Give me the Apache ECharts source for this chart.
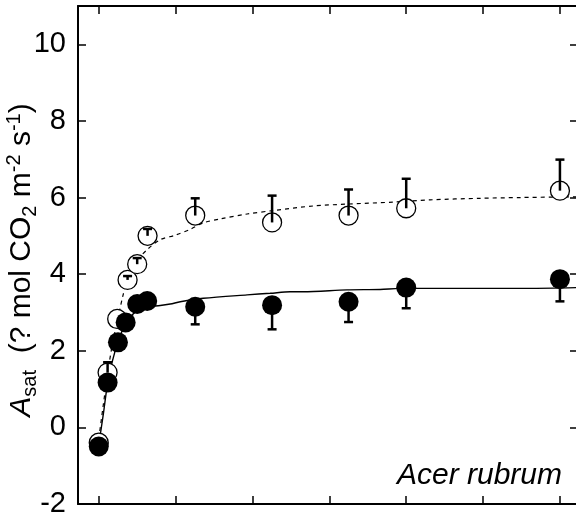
<!DOCTYPE html>
<html>
<head>
<meta charset="utf-8">
<script src="https://cdn.jsdelivr.net/npm/echarts@6/dist/echarts.min.js"></script>
<style>html,body{margin:0;padding:0;background:#fff;}#c{width:576px;height:519px;}</style>
</head>
<body>
<div id="c"></div>
<script>
// x ticks (no labels shown in the reference)
const xTicks = [0, 200, 400, 600, 800, 1000, 1200];
const yTicks = [-2, 0, 2, 4, 6, 8, 10];

// open circles (upper error bar only)
const openX   = [0, 23, 48, 75, 100, 127, 251, 451, 650, 800, 1200];
const openY   = [-0.4, 1.43, 2.83, 3.85, 4.26, 5.0, 5.53, 5.35, 5.53, 5.72, 6.18];
const openErr = [null, 1.7, null, 3.95, 4.42, 5.18, 5.98, 6.05, 6.21, 6.49, 6.99];

// filled circles (lower error bar only)
const fillX   = [0, 23, 50, 70, 100, 126, 251, 451, 650, 800, 1200];
const fillY   = [-0.5, 1.17, 2.22, 2.74, 3.22, 3.30, 3.15, 3.19, 3.28, 3.65, 3.87];
const fillErr = [null, null, null, null, null, null, 2.69, 2.56, 2.75, 3.11, 3.29];

// fitted curves
const dashX = [0, 12, 23, 36, 49, 62, 75, 100, 127, 160, 200, 238, 272, 316, 386, 454, 558, 647, 766, 862, 992, 1096, 1247];
const dashY = [-0.3, 0.6, 1.4, 2.2, 2.8, 3.4, 3.85, 4.35, 4.65, 4.9, 5.02, 5.17, 5.34, 5.44, 5.57, 5.66, 5.78, 5.83, 5.88, 5.94, 5.98, 6.0, 6.02];
const solidX = [0, 12, 23, 36, 49, 62, 75, 100, 127, 160, 186, 212, 272, 386, 446, 498, 532, 646, 732, 784, 1117, 1247];
const solidY = [-0.45, 0.35, 1.15, 1.75, 2.2, 2.55, 2.8, 3.05, 3.15, 3.18, 3.22, 3.28, 3.37, 3.46, 3.5, 3.54, 3.54, 3.59, 3.6, 3.63, 3.63, 3.65];

const FONT = 'Liberation Sans, Arial, sans-serif';

function zip(a, b) { return a.map((v, i) => [v, b[i]]); }
function errData(x, y, e) {
  const out = [];
  x.forEach((v, i) => { if (e[i] !== null) out.push([v, y[i], e[i]]); });
  return out;
}
function errRender(params, api) {
  const c = api.coord([api.value(0), api.value(1)]);
  const e = api.coord([api.value(0), api.value(2)]);
  const st = { stroke: '#000', lineWidth: 2.5 };
  return {
    type: 'group',
    children: [
      { type: 'line', shape: { x1: c[0], y1: c[1], x2: e[0], y2: e[1] }, style: st },
      { type: 'line', shape: { x1: e[0] - 4.5, y1: e[1], x2: e[0] + 4.5, y2: e[1] }, style: st }
    ]
  };
}

const chart = echarts.init(document.getElementById('c'), null, { renderer: 'canvas' });
const xBase = {
  type: 'value', min: -54, max: 1247,
  axisLine: { show: true, onZero: false, lineStyle: { color: '#000', width: 2 } },
  axisTick: { show: true, inside: true, length: 8, customValues: xTicks, lineStyle: { color: '#000', width: 1.5 } },
  axisLabel: { show: false },
  splitLine: { show: false }
};
const yBase = {
  type: 'value', min: -2, max: 11,
  axisLine: { show: true, onZero: false, lineStyle: { color: '#000', width: 2 } },
  axisTick: { show: true, inside: true, length: 8, customValues: yTicks, lineStyle: { color: '#000', width: 1.5 } },
  splitLine: { show: false }
};

chart.setOption({
  backgroundColor: '#fff',
  animation: false,
  grid: { left: 78, right: -2, top: 6, bottom: 15, containLabel: false, outerBoundsMode: 'none' },
  xAxis: [
    Object.assign({}, xBase, { position: 'bottom' }),
    Object.assign({}, xBase, { position: 'top' })
  ],
  yAxis: [
    Object.assign({}, yBase, {
      position: 'left',
      axisLabel: { show: true, customValues: yTicks, margin: 12, color: '#000', fontSize: 29, fontFamily: FONT },
      name: '{i|A}{sub|sat}{n|  (? mol CO}{sub|2}{n| m}{sup|-2}{n| s}{sup|-1}{n|)}',
      nameLocation: 'middle',
      nameRotate: 90,
      nameGap: 38,
      nameMoveOverlap: false,
      nameTextStyle: {
        color: '#000', fontFamily: FONT, fontSize: 30, padding: [0, 10, 0, 0],
        rich: {
          i: { fontStyle: 'italic', fontSize: 30, fontFamily: FONT, color: '#000', lineHeight: 36 },
          n: { fontSize: 30, fontFamily: FONT, color: '#000', lineHeight: 36 },
          sub: { fontSize: 20, fontFamily: FONT, color: '#000', verticalAlign: 'bottom', lineHeight: 20 },
          sup: { fontSize: 20, fontFamily: FONT, color: '#000', verticalAlign: 'top', lineHeight: 20 }
        }
      }
    }),
    Object.assign({}, yBase, { position: 'right', axisLabel: { show: false } })
  ],
  graphic: [{
    type: 'text', right: 14, top: 461,
    style: { text: 'Acer rubrum', font: 'italic 30px ' + FONT, fill: '#000' }
  }],
  series: [
    { type: 'line', data: zip(dashX, dashY), smooth: 0.3, showSymbol: false, symbol: 'none',
      lineStyle: { color: '#000', width: 1.2, type: [4, 4] }, z: 1 },
    { type: 'line', data: zip(solidX, solidY), smooth: 0.3, showSymbol: false, symbol: 'none',
      lineStyle: { color: '#000', width: 1.4 }, z: 1 },
    { type: 'scatter', data: zip(openX, openY), symbol: 'circle', symbolSize: 19,
      itemStyle: { color: '#fff', opacity: 1, borderColor: '#000', borderWidth: 1.3 }, z: 3 },
    { type: 'custom', data: errData(openX, openY, openErr), renderItem: errRender, z: 4 },
    { type: 'custom', data: errData(fillX, fillY, fillErr), renderItem: errRender, z: 5 },
    { type: 'scatter', data: zip(fillX, fillY), symbol: 'circle', symbolSize: 20,
      itemStyle: { color: '#000', opacity: 1, borderColor: '#000', borderWidth: 0 }, z: 6 }
  ]
});
</script>
</body>
</html>
